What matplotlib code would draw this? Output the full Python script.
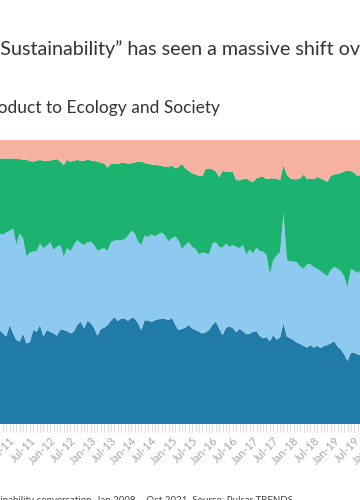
import matplotlib
matplotlib.use("Agg")
import matplotlib.pyplot as plt
import matplotlib.dates as mdates
import pandas as pd
import numpy as np

plt.rcParams['font.family'] = ['Lato', 'DejaVu Sans']

# Monthly shares (%), Sep 2010 .. Oct 2019 (visible window of Jan 2008 - Oct 2021)
start_month = "2010-09-01"
product = [32.5, 33.1, 31.9, 30.8, 34.9, 31.9, 29.6, 29.0, 31.9, 28.4, 28.8,
           33.1, 32.5, 34.9, 30.8, 33.1, 32.5, 31.9, 31.1, 33.3, 33.1,
           32.7, 31.9, 32.5, 34.9, 36.0, 33.7, 36.4, 35.5, 33.7, 31.1,
           33.5, 33.9, 34.9, 36.4, 37.6, 36.3, 37.2, 37.2, 36.3, 37.4,
           37.2, 35.5, 33.1, 36.6, 36.4, 36.0, 36.5, 36.9, 37.0, 37.0,
           36.6, 37.4, 34.9, 33.1, 33.5, 33.9, 34.9, 33.7, 33.1, 32.5,
           31.9, 32.3, 33.1, 34.9, 36.0, 33.7, 31.3, 33.9, 34.3, 33.9,
           32.3, 33.5, 32.7, 31.6, 31.8, 32.5, 32.7, 31.0, 30.2, 30.6,
           29.2, 31.3, 29.7, 30.6, 35.5, 30.8, 30.2, 29.5, 28.6, 28.2,
           27.5, 26.9, 27.8, 26.9, 27.6, 26.7, 27.5, 27.8, 28.4, 29.2,
           27.2, 26.3, 24.5, 22.2, 25.2, 25.1, 24.5, 24.3, 25.0]
business = [34.5, 34.0, 34.7, 36.7, 33.1, 37.0, 33.4, 38.1, 33.5, 30.5, 31.6,
            27.6, 28.4, 28.7, 31.1, 29.7, 31.5, 29.4, 31.3, 29.7, 25.8,
            29.2, 29.0, 30.5, 29.9, 27.6, 29.3, 27.6, 28.7, 29.3, 29.8,
            28.1, 28.0, 26.0, 27.6, 27.0, 28.4, 27.6, 27.8, 30.0, 30.6,
            29.9, 28.7, 29.9, 29.7, 29.5, 30.8, 29.5, 29.9, 30.4, 29.3,
            27.6, 28.0, 31.1, 31.5, 28.1, 29.1, 29.1, 28.7, 28.5, 27.2,
            28.5, 27.8, 26.6, 28.7, 28.0, 28.7, 30.8, 29.6, 28.1, 29.1,
            30.1, 28.4, 30.3, 28.1, 29.5, 27.6, 29.4, 29.9, 30.5, 28.9,
            23.5, 26.5, 29.6, 29.9, 38.7, 27.0, 27.0, 27.7, 28.3, 27.2,
            27.1, 29.3, 28.4, 28.4, 27.0, 27.2, 25.4, 24.3, 25.8, 26.1,
            27.4, 27.6, 27.4, 25.8, 29.4, 28.8, 28.6, 29.9, 29.0]
ecology = [26.5, 26.4, 26.9, 26.0, 25.5, 24.6, 30.3, 26.2, 27.7, 34.1, 32.2,
           31.7, 31.8, 29.4, 30.8, 29.8, 28.8, 31.7, 30.9, 29.4, 32.3,
           31.1, 31.5, 29.7, 28.2, 29.1, 29.6, 29.2, 28.6, 29.6, 31.5,
           30.4, 29.8, 29.4, 27.7, 27.1, 26.9, 27.2, 26.9, 25.4, 23.8,
           25.0, 28.2, 29.4, 25.6, 25.8, 24.6, 25.3, 24.3, 23.6, 24.2,
           26.3, 25.7, 24.0, 25.9, 30.0, 27.0, 25.1, 25.9, 26.3, 27.7,
           26.9, 29.7, 30.3, 26.1, 24.9, 24.5, 27.0, 25.4, 26.5, 25.9,
           23.5, 23.9, 23.2, 26.8, 24.3, 25.2, 24.4, 26.0, 26.4, 26.8,
           33.8, 28.7, 27.0, 25.4, 17.0, 29.9, 29.3, 29.0, 29.3, 31.1,
           33.3, 30.0, 30.3, 30.9, 32.4, 32.6, 33.0, 33.2, 33.2, 32.6,
           33.4, 34.5, 37.0, 41.3, 34.5, 34.5, 34.2, 33.7, 34.0]
society = [6.5, 6.5, 6.5, 6.5, 6.5, 6.5, 6.7, 6.7, 6.9, 7.0, 7.4,
           7.6, 7.3, 7.0, 7.3, 7.4, 7.2, 7.0, 6.7, 7.6, 8.8,
           7.0, 7.6, 7.3, 7.0, 7.3, 7.4, 6.8, 7.2, 7.4, 7.6,
           8.0, 8.3, 9.7, 8.3, 8.3, 8.4, 8.0, 8.1, 8.3, 8.2,
           7.9, 7.6, 7.6, 8.1, 8.3, 8.6, 8.7, 8.9, 9.0, 9.5,
           9.5, 8.9, 10.0, 9.5, 8.4, 10.0, 10.9, 11.7, 12.1, 12.6,
           12.7, 10.2, 10.0, 10.3, 11.1, 13.1, 10.9, 11.1, 11.1, 11.1,
           14.1, 14.2, 13.8, 13.5, 14.4, 14.7, 13.5, 13.1, 12.9, 13.7,
           13.5, 13.5, 13.7, 14.1, 8.8, 12.3, 13.5, 13.8, 13.8, 13.5,
           12.1, 13.8, 13.5, 13.8, 13.0, 13.5, 14.1, 14.7, 12.6, 12.1,
           12.0, 11.6, 11.1, 10.7, 10.9, 11.6, 12.7, 12.1, 12.0]

title = "\u201cSustainability\u201d has seen a massive shift over time"
subtitle = "From Product to Ecology and Society"
footer = "Share of Sustainability conversation, Jan 2008 \u2013 Oct 2021. Source: Pulsar TRENDS"
period_start, period_end = "2008-01-01", "2021-10-01"

colors = ["#207ba8", "#8ecaf0", "#1cb371", "#f7b1a0"]

dates = pd.date_range(start_month, periods=len(product), freq="MS")

W, H = 360, 500
fig = plt.figure(figsize=(W / 100, H / 100), dpi=100)

x0, x1 = -112.0, 445.7
ytop, ybot = 140.0, 424.0
ax = fig.add_axes([x0 / W, 1 - ybot / H, (x1 - x0) / W, (ybot - ytop) / H])
ax.stackplot(dates, product, business, ecology, society, colors=colors,
             linewidth=0)
ax.set_xlim(pd.Timestamp(period_start), pd.Timestamp(period_end))
ax.set_ylim(0, 100)
for s in ax.spines.values():
    s.set_visible(False)
ax.set_yticks([])
ax.xaxis.set_major_locator(mdates.MonthLocator(bymonth=[1, 7]))
ax.xaxis.set_major_formatter(mdates.DateFormatter("%b-%y"))
ax.xaxis.set_minor_locator(mdates.MonthLocator())
ax.tick_params(axis="x", which="both", length=6, width=0.9, color="#dddddd",
               pad=2)
ax.tick_params(axis="x", which="major", labelsize=8, labelcolor="#a8a8a8")
for lab in ax.get_xticklabels():
    lab.set_rotation(45)
    lab.set_ha("right")
    lab.set_rotation_mode("anchor")

# Title (opening quote sits just off the left edge)
renderer = fig.canvas.get_renderer()
q = fig.text(0, 0, "\u201c", fontsize=14.2)
qw = q.get_window_extent(renderer).width
q.remove()
fig.text(-qw / W, 1 - 55 / H, title, fontsize=14.2, color="#333333",
         ha="left", va="baseline")
fig.text(220 / W, 1 - 113 / H, subtitle, fontsize=12.5, color="#333333",
         ha="right", va="baseline")
fig.text(293 / W, 1 - 503 / H, footer, fontsize=7.0, color="#444444",
         ha="right", va="baseline")

fig.savefig("out.png", dpi=100)
